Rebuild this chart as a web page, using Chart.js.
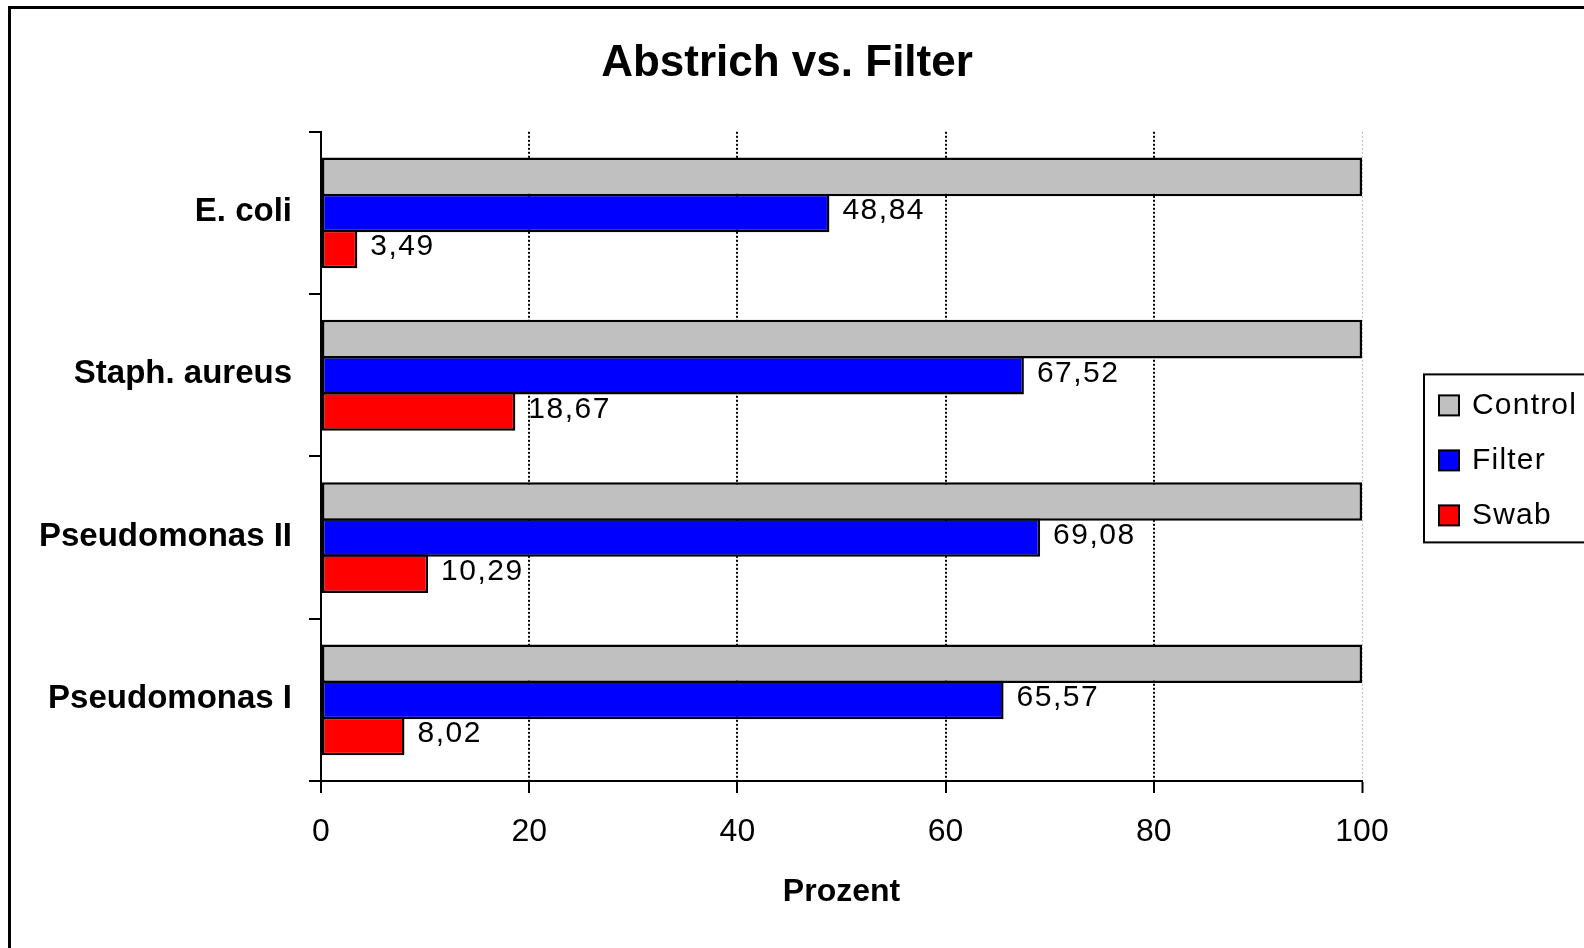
<!DOCTYPE html>
<html>
<head>
<meta charset="utf-8">
<title>Abstrich vs. Filter</title>
<script src="https://cdn.jsdelivr.net/npm/chart.js@4/dist/chart.umd.min.js"></script>
<style>
  html, body { margin: 0; padding: 0; background: #fff; overflow: hidden; }
  #frame {
    position: absolute; left: 8px; top: 6px;
    width: 1700px; height: 1100px;
    border: 3px solid #000;
  }
  #chart { position: absolute; left: 0; top: 0; }
</style>
</head>
<body>
<div id="frame"></div>
<canvas id="chart" width="1584" height="948"></canvas>
<script>
/* ---------- data ---------- */
const organisms = ['E. coli', 'Staph. aureus', 'Pseudomonas II', 'Pseudomonas I'];
const controlPct = [100, 100, 100, 100];
const filterPct  = [48.84, 67.52, 69.08, 65.57];
const swabPct    = [3.49, 18.67, 10.29, 8.02];
const xTickStep  = 20;

const FONT = '"Liberation Sans", Arial, sans-serif';

/* ---------- value labels next to the bars ---------- */
const valueLabels = {
  id: 'valueLabels',
  afterDatasetsDraw(chart) {
    const ctx = chart.ctx;
    ctx.save();
    ctx.font = '30px ' + FONT;
    ctx.letterSpacing = '1.5px';
    ctx.fillStyle = '#000';
    ctx.textAlign = 'left';
    ctx.textBaseline = 'middle';
    chart.data.datasets.forEach((ds, i) => {
      if (!ds.showValues) return;
      chart.getDatasetMeta(i).data.forEach((bar, j) => {
        const txt = ds.data[j].toFixed(2).replace('.', ',');
        ctx.fillText(txt, bar.x + 13, bar.y - 2);
      });
    });
    ctx.restore();
  }
};

/* ---------- boxed legend on the right ---------- */
const boxLegend = {
  id: 'boxLegend',
  afterDraw(chart) {
    const { ctx, chartArea } = chart;
    const left = chartArea.right + 62;
    const mid = (chartArea.top + chartArea.bottom) / 2;
    const top = mid - 82;
    const rowH = 55;
    ctx.save();
    ctx.lineWidth = 2;
    ctx.strokeStyle = '#000';
    ctx.strokeRect(left, top, 320, 168);
    ctx.font = '30px ' + FONT;
    ctx.letterSpacing = '1.2px';
    ctx.textBaseline = 'middle';
    ctx.textAlign = 'left';
    chart.data.datasets.forEach((ds, i) => {
      const cy = top + 31 + i * rowH;
      ctx.fillStyle = ds.backgroundColor;
      ctx.fillRect(left + 15, cy - 10, 20, 20);
      ctx.strokeRect(left + 15, cy - 10, 20, 20);
      ctx.fillStyle = '#000';
      ctx.fillText(ds.label, left + 48, cy);
    });
    ctx.restore();
  }
};

const barStyle = {
  borderColor: '#000',
  borderWidth: 2.5,
  borderSkipped: false,
  barPercentage: 1.07,
  categoryPercentage: 0.667
};

new Chart(document.getElementById('chart'), {
  type: 'bar',
  data: {
    labels: organisms,
    datasets: [
      { label: 'Control', data: controlPct, backgroundColor: '#c0c0c0', ...barStyle },
      { label: 'Filter',  data: filterPct,  backgroundColor: '#0000ff', showValues: true, ...barStyle },
      { label: 'Swab',    data: swabPct,    backgroundColor: '#ff0000', showValues: true, ...barStyle }
    ]
  },
  options: {
    indexAxis: 'y',
    responsive: false,
    animation: false,
    layout: { padding: { left: 0, right: 10, top: 0, bottom: 0 } },
    plugins: {
      legend: { display: false },
      tooltip: { enabled: false },
      title: {
        display: true,
        text: 'Abstrich vs. Filter',
        color: '#000',
        font: { family: FONT, size: 44, weight: 'bold' },
        padding: { top: 37, bottom: 42 }
      }
    },
    scales: {
      x: {
        min: 0,
        max: 100,
        afterFit(scale) { scale.height = 167; },
        ticks: {
          stepSize: xTickStep,
          color: '#000',
          padding: 20,
          font: { family: FONT, size: 32 }
        },
        grid: {
          color: c => (c.tick && c.tick.value === 100) ? '#bdbdbd' : '#000',
          lineWidth: c => (c.tick && c.tick.value === 100) ? 1 : 2,
          tickColor: '#000',
          tickWidth: 2,
          tickLength: 12
        },
        border: { color: '#000', width: 2, dash: [2, 2] },
        title: {
          display: true,
          text: 'Prozent',
          color: '#000',
          font: { family: FONT, size: 32, weight: 'bold' },
          padding: { top: 0, bottom: 37 }
        }
      },
      y: {
        afterFit(scale) { scale.width = 321; },
        ticks: {
          color: '#000',
          padding: 17,
          labelOffset: -1,
          font: { family: FONT, size: 33, weight: 'bold' }
        },
        grid: {
          offset: true,
          drawOnChartArea: false,
          color: '#000',
          lineWidth: 2,
          tickLength: 12
        },
        border: { color: '#000', width: 2 }
      },
      // empty strip on the right that holds the legend
      legendGap: {
        type: 'linear',
        axis: 'y',
        position: 'right',
        afterFit(scale) { scale.width = 212; },
        ticks: { display: false },
        grid: { display: false, drawTicks: false },
        border: { display: false }
      }
    }
  },
  plugins: [valueLabels, boxLegend]
});
</script>
</body>
</html>
